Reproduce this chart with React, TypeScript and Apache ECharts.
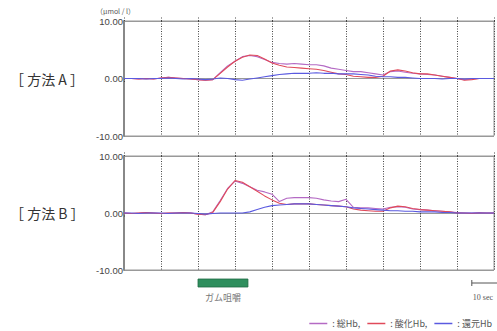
import React, { useEffect, useRef } from "react";
import * as echarts from "echarts";

const times = [0, 2, 4, 6, 8, 10, 12, 14, 16, 18, 20, 22, 24, 26, 28, 30, 32, 34, 36, 38, 40, 42, 44, 46, 48, 50, 52, 54, 56, 58, 60, 62, 64, 66, 68, 70, 72, 74, 76, 78, 80, 82, 84, 86, 88, 90, 92, 94, 96, 98, 100];

const totalA = [0.0, 0.0, -0.1, 0.0, -0.1, 0.1, 0.2, 0.1, 0.0, -0.1, -0.2, -0.3, -0.2, 1.0, 2.2, 3.0, 3.8, 4.0, 3.8, 3.3, 2.8, 2.6, 2.5, 2.6, 2.5, 2.4, 2.4, 2.2, 1.8, 1.6, 1.4, 1.2, 1.2, 1.0, 0.8, 0.6, 1.2, 1.3, 1.1, 0.9, 0.8, 0.7, 0.6, 0.4, 0.2, 0.0, -0.2, -0.1, 0.0, 0.0, 0.0];
const oxyA = [0.0, 0.0, -0.1, 0.0, -0.1, 0.1, 0.2, 0.1, 0.0, -0.1, -0.2, -0.3, -0.2, 0.9, 2.0, 3.0, 3.7, 4.1, 4.0, 3.4, 2.7, 2.3, 2.0, 1.9, 1.8, 1.7, 1.6, 1.4, 1.1, 0.8, 0.7, 0.4, 0.3, 0.2, 0.2, 0.4, 1.3, 1.5, 1.3, 1.0, 0.8, 0.8, 0.6, 0.4, 0.2, 0.0, -0.3, -0.2, 0.0, 0.0, 0.0];
const deoxyA = [0.0, 0.0, 0.0, -0.1, 0.0, 0.0, 0.1, 0.0, -0.1, 0.0, -0.1, -0.2, -0.1, 0.1, 0.0, -0.2, -0.3, -0.1, 0.1, 0.3, 0.5, 0.7, 0.8, 0.9, 0.9, 0.9, 1.0, 0.9, 0.9, 0.8, 0.8, 0.8, 0.7, 0.6, 0.4, 0.3, 0.3, 0.2, 0.2, 0.1, 0.0, 0.0, 0.0, -0.1, 0.0, 0.0, -0.1, 0.0, 0.0, 0.0, 0.0];

const totalB = [0.0, -0.1, 0.0, 0.1, 0.0, -0.1, 0.0, 0.0, 0.1, 0.0, -0.2, -0.3, 0.2, 2.2, 4.3, 5.6, 5.2, 4.6, 4.0, 3.7, 3.3, 2.0, 2.6, 2.7, 2.7, 2.7, 2.6, 2.3, 2.1, 2.0, 2.4, 1.0, 0.9, 0.9, 0.8, 0.7, 1.0, 1.1, 1.0, 0.7, 0.6, 0.5, 0.4, 0.3, 0.2, 0.1, 0.0, 0.0, 0.1, 0.0, 0.0];
const oxyB = [0.0, -0.1, 0.0, 0.1, 0.0, -0.1, 0.0, 0.0, 0.1, 0.0, -0.2, -0.3, 0.1, 2.0, 4.2, 5.7, 5.4, 4.6, 3.8, 3.0, 2.3, 1.7, 1.5, 1.6, 1.6, 1.6, 1.5, 1.4, 1.3, 1.2, 1.1, 0.7, 0.5, 0.4, 0.3, 0.3, 0.9, 1.2, 1.1, 0.8, 0.6, 0.5, 0.4, 0.3, 0.2, 0.0, 0.0, -0.1, 0.0, 0.0, 0.0];
const deoxyB = [0.0, 0.0, -0.1, 0.0, 0.0, 0.0, -0.1, 0.0, 0.0, 0.0, -0.1, -0.2, -0.1, 0.0, 0.0, 0.0, 0.0, 0.2, 0.6, 1.0, 1.3, 1.4, 1.5, 1.6, 1.6, 1.6, 1.5, 1.4, 1.3, 1.2, 1.1, 0.9, 0.8, 0.7, 0.6, 0.5, 0.4, 0.4, 0.3, 0.3, 0.2, 0.2, 0.2, 0.1, 0.1, 0.0, 0.0, 0.0, 0.0, 0.0, 0.0];

const seriesNames = ["総Hb", "酸化Hb", "還元Hb"];
const panelLabels = ["［ 方法 A ］", "［ 方法 B ］"];
const yTicks = [-10, 0, 10];
const gumInterval = [20, 33.5];
const gumLabel = "ガム咀嚼";
const scaleBar = [94, 104];
const scaleLabel = "10 sec";
const unitLabel = "（μmol / l）";

const colors = ["#b46ac4", "#e04a5a", "#5a5ae0"];

const pairs = (vals: number[]) => times.map((t, i) => [t, vals[i]]);

export default function App() {
  const ref = useRef<HTMLDivElement>(null);
  useEffect(() => {
    if (!ref.current) return;
    const chart = echarts.init(ref.current, undefined, { renderer: "svg" });
    const gridTops = [21, 156];
    const gridHeights = [115, 114];
    const grids = gridTops.map((top, i) => ({
      left: 124,
      right: 3,
      top,
      height: gridHeights[i],
      show: true,
      borderColor: "#999",
      borderWidth: 1,
    }));
    const xAxes: any[] = [];
    [0, 1].forEach((g) => {
      xAxes.push({
        type: "value",
        gridIndex: g,
        min: 0,
        max: 100,
        interval: 10,
        position: "bottom",
        axisLine: { show: false },
        axisLabel: { show: false },
        axisTick: { show: true, length: 5, lineStyle: { color: "#444", type: [1, 1.5] } },
        splitLine: { show: true, lineStyle: { color: "#444", type: [1, 1.5], width: 1 } },
      });
      xAxes.push({
        type: "value",
        gridIndex: g,
        min: 0,
        max: 100,
        interval: 10,
        position: "top",
        axisLine: { show: false },
        axisLabel: { show: false },
        axisTick: { show: true, length: 5, lineStyle: { color: "#444", type: [1, 1.5] } },
        splitLine: { show: false },
      });
    });
    const yAxes = [0, 1].map((g) => ({
      type: "value",
      gridIndex: g,
      min: yTicks[0],
      max: yTicks[2],
      interval: 10,
      axisLine: { show: true, lineStyle: { color: "#888", width: 2 } },
      axisTick: { show: false },
      axisLabel: {
        formatter: (v: number) => v.toFixed(2),
        fontSize: 9.5,
        color: "#444",
        fontFamily: "Liberation Sans",
        margin: 1,
      },
      splitLine: { show: true, lineStyle: { color: "#999", width: 1 } },
    }));
    const panels = [
      [totalA, oxyA, deoxyA],
      [totalB, oxyB, deoxyB],
    ];
    const series: any[] = [];
    panels.forEach((p, g) => {
      p.forEach((vals, k) => {
        series.push({
          type: "line",
          name: seriesNames[k],
          xAxisIndex: g * 2,
          yAxisIndex: g,
          data: pairs(vals),
          showSymbol: false,
          symbol: "none",
          lineStyle: { width: 1.1, color: colors[k] },
          itemStyle: { color: colors[k] },
          z: 3 + (k === 2 ? 1 : 0),
        });
      });
    });
    chart.setOption({
      animation: false,
      grid: grids,
      xAxis: xAxes,
      yAxis: yAxes,
      series,
      legend: {
        data: seriesNames,
        right: 0,
        top: 314,
        icon: "rect",
        itemWidth: 18,
        itemHeight: 1.5,
        itemGap: 7,
        textStyle: { fontSize: 9, color: "#555", fontFamily: "Noto Sans CJK JP" },
        formatter: (name: string) => (name === "還元Hb" ? ": " + name : ": " + name + ","),
        selectedMode: false,
      },
    });
    const gx1 = chart.convertToPixel({ gridIndex: 1 }, [gumInterval[0], -10]) as number[];
    const gx2 = chart.convertToPixel({ gridIndex: 1 }, [gumInterval[1], -10]) as number[];
    const s1 = chart.convertToPixel({ gridIndex: 1 }, [scaleBar[0], -10]) as number[];
    const s2 = chart.convertToPixel({ gridIndex: 1 }, [scaleBar[1], -10]) as number[];
    const p0 = chart.convertToPixel({ gridIndex: 0 }, [0, 0]) as number[];
    const p1 = chart.convertToPixel({ gridIndex: 1 }, [0, 0]) as number[];
    const baseY = gx1[1];
    chart.setOption({
      graphic: [
        {
          type: "rect",
          shape: { x: gx1[0], y: baseY + 9, width: gx2[0] - gx1[0], height: 8 },
          style: { fill: "#2f8f5e", stroke: "#1f6a44", lineWidth: 0.8 },
        },
        {
          type: "text",
          x: (gx1[0] + gx2[0]) / 2,
          y: baseY + 27,
          style: {
            text: gumLabel,
            fill: "#777",
            fontSize: 9,
            fontFamily: "Noto Sans CJK JP",
            align: "center",
            verticalAlign: "middle",
          },
        },
        {
          type: "line",
          shape: { x1: s1[0], y1: baseY + 13, x2: s2[0], y2: baseY + 13 },
          style: { stroke: "#555", lineWidth: 1 },
        },
        {
          type: "line",
          shape: { x1: s1[0], y1: baseY + 10, x2: s1[0], y2: baseY + 16 },
          style: { stroke: "#555", lineWidth: 1 },
        },
        {
          type: "text",
          x: s1[0] + 1,
          y: baseY + 27,
          style: {
            text: scaleLabel,
            fill: "#555",
            fontSize: 8,
            fontFamily: "Liberation Serif",
            align: "left",
            verticalAlign: "middle",
          },
        },
        {
          type: "text",
          x: 96,
          y: 11,
          style: {
            text: unitLabel,
            fill: "#555",
            fontSize: 7,
            fontFamily: "Noto Sans CJK JP",
            align: "left",
            verticalAlign: "middle",
          },
        },
        {
          type: "text",
          x: 10,
          y: p0[1],
          style: {
            text: panelLabels[0],
            fill: "#333",
            fontSize: 14,
            fontFamily: "Noto Sans CJK JP",
            align: "left",
            verticalAlign: "middle",
          },
        },
        {
          type: "text",
          x: 10,
          y: p1[1],
          style: {
            text: panelLabels[1],
            fill: "#333",
            fontSize: 14,
            fontFamily: "Noto Sans CJK JP",
            align: "left",
            verticalAlign: "middle",
          },
        },
      ],
    });
    return () => chart.dispose();
  }, []);
  return (
    <div
      ref={ref}
      style={{ position: "absolute", left: 0, top: 0, width: 497, height: 331, background: "#fff" }}
    />
  );
}
